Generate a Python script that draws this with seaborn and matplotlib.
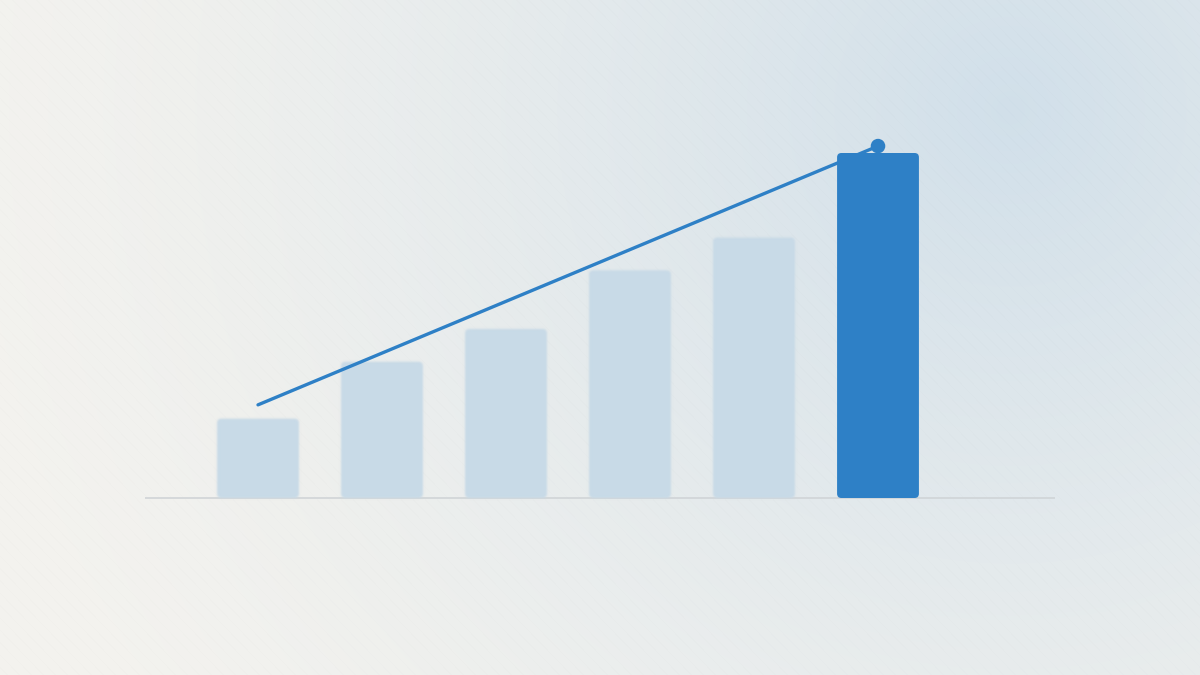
import numpy as np
import pandas as pd
import matplotlib
matplotlib.use("Agg")
import matplotlib.pyplot as plt
import seaborn as sns
from matplotlib.patches import FancyBboxPatch

# dados do gráfico
steps = ["1", "2", "3", "4", "5", "6"]
values = [23, 39.5, 49, 66, 75.5, 100]
highlight = ["base", "base", "base", "base", "base", "destaque"]
trend_x = [0, 5]
trend_y = [27, 102]

PALE = "#c8dae7"
BLUE = "#2e80c6"

W, H = 1200, 675


def blur_filter(sigma):
    # desfoque gaussiano simples (alfa pré-multiplicado) para as barras claras
    r = int(3 * sigma)
    k = np.exp(-0.5 * (np.arange(-r, r + 1) / sigma) ** 2)
    k /= k.sum()

    def conv(a):
        a = np.apply_along_axis(lambda m: np.convolve(m, k, mode="same"), 0, a)
        return np.apply_along_axis(lambda m: np.convolve(m, k, mode="same"), 1, a)

    def f(img, dpi):
        pad = np.pad(img, ((r, r), (r, r), (0, 0)), mode="constant")
        a = pad[..., 3:4]
        rgb = conv(pad[..., :3] * a)
        a2 = conv(a[..., 0])[..., None]
        out = np.concatenate([rgb / np.maximum(a2, 1e-6), a2], axis=2)
        return np.clip(out, 0, 1), -r, -r
    return f


def background():
    yy, xx = np.mgrid[0:H, 0:W].astype(float)
    warm = np.array([0.955, 0.951, 0.935])
    cool = np.array([0.820, 0.877, 0.917])
    d = np.hypot(xx - 1010, yy - 110)
    t = np.clip(1 - d / 1100, 0, 1) ** 1.5
    img = warm * (1 - t[..., None]) + cool * t[..., None]
    # riscas diagonais muito suaves
    s = (xx - yy * 0.97) % 12
    img -= (s < 1.5)[..., None] * 0.007
    return np.clip(img, 0, 1)


def main():
    sns.set_theme(style="white")
    fig = plt.figure(figsize=(12, 6.75), dpi=100)
    ax = fig.add_axes([0, 0, 1, 1])

    px_x = 124.0
    px_y = 3.45
    x0, base_py = 258.0, 177.0
    xlim = (-x0 / px_x, (W - x0) / px_x)
    ylim = (-base_py / px_y, (H - base_py) / px_y)

    ax.imshow(background(), extent=[xlim[0], xlim[1], ylim[0], ylim[1]],
              aspect="auto", zorder=0, interpolation="nearest")

    df = pd.DataFrame({"passo": steps, "valor": values, "grupo": highlight})
    sns.barplot(data=df, x="passo", y="valor", hue="grupo",
                palette={"base": PALE, "destaque": BLUE}, saturation=1,
                width=0.66, dodge=False, legend=False, ax=ax, zorder=2)

    # trocar os retângulos por barras com cantos arredondados
    rects = [p for p in ax.patches if p.get_height() > 0]
    for p in list(ax.patches):
        p.remove()
    rects.sort(key=lambda p: p.get_x())
    for p, grp in zip(rects, highlight):
        is_hl = grp == "destaque"
        fb = FancyBboxPatch((p.get_x(), p.get_y()), p.get_width(), p.get_height(),
                            boxstyle="round,pad=0,rounding_size=0.035",
                            mutation_aspect=px_x / px_y,
                            facecolor=BLUE if is_hl else PALE, edgecolor="none",
                            zorder=4 if is_hl else 2)
        if not is_hl:
            fb.set_agg_filter(blur_filter(1.0))
        ax.add_patch(fb)

    ax.hlines(0, -0.911, 6.43, color="#d0d4d7", lw=1.2, zorder=1)

    sns.lineplot(x=trend_x, y=trend_y, color=BLUE, lw=2.4, ax=ax, zorder=3)
    ax.scatter(trend_x[-1:], trend_y[-1:], s=110, color=BLUE, zorder=5,
               edgecolors="none")

    ax.set_xlim(*xlim)
    ax.set_ylim(*ylim)
    ax.axis("off")

    fig.savefig("out.png", dpi=100)
    plt.close(fig)


if __name__ == "__main__":
    main()
